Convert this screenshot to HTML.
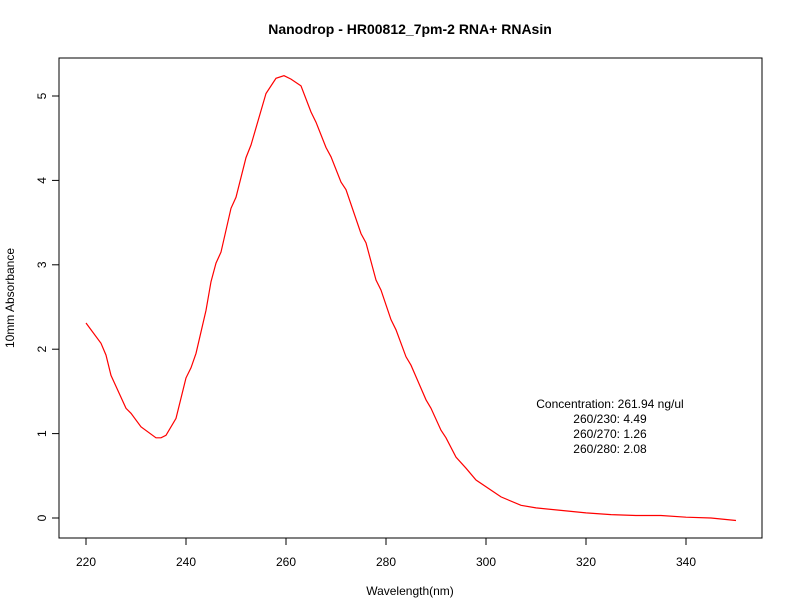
<!DOCTYPE html>
<html><head><meta charset="utf-8"><style>
html,body{margin:0;padding:0;background:#fff;}
svg{display:block;font-family:"Liberation Sans",sans-serif;}
</style></head><body>
<svg id="chart" width="792" height="612" viewBox="0 0 792 612" xmlns="http://www.w3.org/2000/svg">
<rect width="792" height="612" fill="#fff"/>
<text x="410" y="34" text-anchor="middle" font-size="14" font-weight="bold">Nanodrop - HR00812_7pm-2 RNA+ RNAsin</text>
<rect x="59" y="58" width="703" height="480" fill="none" stroke="#000" stroke-width="1"/>
<g id="xaxis"></g>
<g id="yaxis"></g>
<text x="410" y="595" text-anchor="middle" font-size="12">Wavelength(nm)</text>
<text x="14" y="298" text-anchor="middle" font-size="12" transform="rotate(-90 14 298)">10mm Absorbance</text>
<g font-size="12" text-anchor="middle">
<text x="610" y="408">Concentration: 261.94 ng/ul</text>
<text x="610" y="423">260/230: 4.49</text>
<text x="610" y="438">260/270: 1.26</text>
<text x="610" y="453">260/280: 2.08</text>
</g>
<path id="spectrum" fill="none" stroke="#ff0000" stroke-width="1.2"/>
</svg>
<script>
const wavelengths = [220,223,224,225,228,229,231,234,235,236,238,240,241,242,244,245,246,247,249,250,252,253,256,258,259.6,261,263,265,266,268,269,271,272,275,276,278,279,281,282,284,285,288,289,291,292,294,296,298,301,303,307,310,315,320,325,330,335,340,345,350];
const absorbance = [2.31,2.07,1.93,1.69,1.30,1.24,1.08,0.95,0.95,0.98,1.18,1.66,1.78,1.95,2.46,2.80,3.02,3.15,3.67,3.80,4.27,4.42,5.03,5.21,5.24,5.20,5.12,4.81,4.69,4.39,4.28,3.98,3.89,3.37,3.26,2.82,2.70,2.35,2.23,1.91,1.81,1.40,1.30,1.04,0.95,0.72,0.59,0.45,0.33,0.25,0.15,0.12,0.09,0.06,0.04,0.03,0.03,0.01,0.00,-0.03];
const xTicks = [220,240,260,280,300,320,340];
const yTicks = [0,1,2,3,4,5];
const xs = v => 86 + (v-220)*5;
const ys = v => 518 - v*84.4;
const NS="http://www.w3.org/2000/svg";
const xa=document.getElementById('xaxis'), ya=document.getElementById('yaxis');
function mk(t,a,p){const e=document.createElementNS(NS,t);for(const k in a)e.setAttribute(k,a[k]);p.appendChild(e);return e;}
mk('line',{x1:xs(220),x2:xs(340),y1:538,y2:538,stroke:'#000'},xa);
xTicks.forEach(v=>{
  const l=mk('line',{x1:xs(v),x2:xs(v),y1:538,y2:545,stroke:'#000'},xa);
  
  
  const t=mk('text',{x:xs(v),y:566,'text-anchor':'middle','font-size':12},xa);
  
  
  t.textContent=v;
});
mk('line',{x1:59,x2:59,y1:ys(0),y2:ys(5),stroke:'#000'},ya);
yTicks.forEach(v=>{
  const l=mk('line',{x1:52,x2:59,y1:ys(v),y2:ys(v),stroke:'#000'},ya);
  
  
  const t=mk('text',{x:42,y:ys(v),'text-anchor':'middle','font-size':12,transform:`rotate(-90 42 ${ys(v)})`},ya);
  
  
  t.setAttribute('dominant-baseline','central');
  t.textContent=v;
});
let d='';
wavelengths.forEach((w,i)=>{d+=(i?'L':'M')+xs(w).toFixed(1)+','+ys(absorbance[i]).toFixed(1);});
document.getElementById('spectrum').setAttribute('d',d);
</script>
</body></html>
